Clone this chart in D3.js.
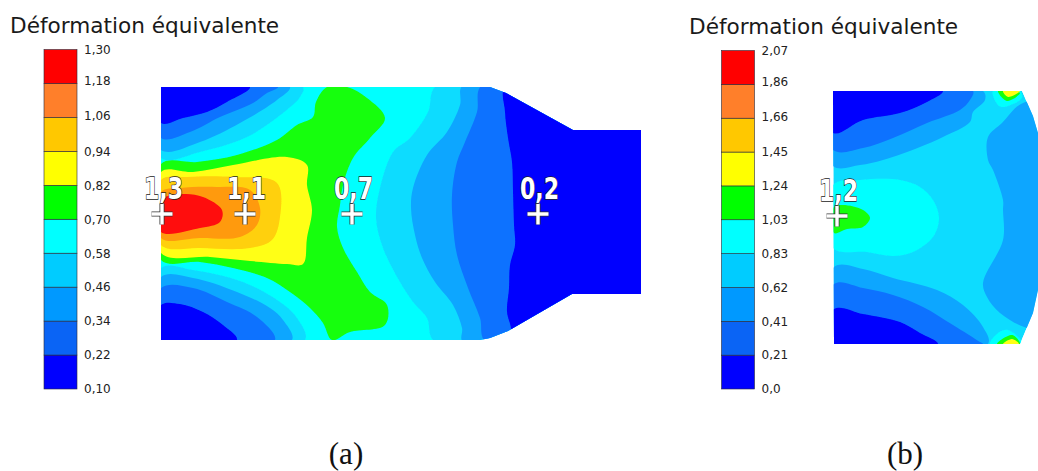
<!DOCTYPE html>
<html><head><meta charset="utf-8">
<script src="https://cdn.jsdelivr.net/npm/d3@7/dist/d3.min.js"></script>
<style>html,body{margin:0;padding:0;background:#fff;overflow:hidden}svg{display:block}</style>
</head><body><svg id="c" width="1038" height="471"></svg>
<script>
// ---------- legend data ----------
const titleText = "Déformation équivalente";
const legendColors = ["#0000ff","#0a64f5","#0099ff","#00ccff","#00ffff","#00ff00","#ffff00","#ffc800","#ff7f2a","#ff0000"];
const fieldColors  = ["#0000ff","#0f72ff","#0ba6ff","#10dcff","#00ffff","#14ff0a","#ffff14","#ffd010","#ff9a0a","#ff0a0a"];
const ticksA = ["0,10","0,22","0,34","0,46","0,58","0,70","0,82","0,94","1,06","1,18","1,30"];
const ticksB = ["0,0","0,21","0,41","0,62","0,83","1,03","1,24","1,45","1,66","1,86","2,07"];

// ---------- panel (a): contour regions in model units ----------
const outlineA = [[0,0],[329,0],[345,6],[412,43],[480,43],[480,207],[411,207],[347,244],[329,251],[319,253],[0,253]];
const rightBand3A = [[276,-2],[267,25],[249,51],[232,65],[219,101],[215,131],[222,161],[239,195],[252,215],[266,231],[274,255],[500,260],[500,-5]];
const rightBand2A = [[302,-2],[299,18],[286,45],[266,68],[252,101],[250,121],[254,148],[261,171],[274,195],[292,218],[301,241],[302,255],[500,260],[500,-5]];
const rightBand1A = [[321,-2],[316,25],[304,55],[296,75],[291,108],[292,138],[296,168],[307,201],[319,231],[325,255],[500,260],[500,-5]];
const rightBand0A = [[345,-2],[344,25],[347,51],[351,75],[352,105],[353,138],[354,158],[349,178],[348,201],[346,225],[350,243],[345,258],[500,260],[500,-5]];
const greenA = [[0,77],[36,75],[76,68],[116,53],[136,38],[152,30],[155,15],[166,0],[186,0],[206,11],[224,31],[209,51],[192,71],[182,98],[179,118],[176,140],[182,161],[196,185],[209,205],[226,218],[224,238],[189,245],[171,253],[162,236],[149,221],[129,205],[106,191],[72,181],[39,175],[0,173]];
const yellowA = [[0,85],[32,85],[72,78],[126,70],[146,78],[146,98],[151,123],[146,151],[142,177],[126,177],[89,174],[49,170],[0,166]];
const goldA = [[0,93],[26,90],[72,90],[116,96],[119,130],[111,153],[89,161],[39,161],[0,158]];
const orangeA = [[0,105],[19,101],[56,100],[89,103],[99,121],[96,138],[79,150],[39,151],[0,151]];
const redA = [[0,113],[22,107],[42,110],[61,123],[59,135],[39,141],[0,145]];
const topBand3A = [[-15,-15],[142,0],[139,10],[122,26],[86,50],[39,65],[0,71]];
const topBand2A = [[-15,-15],[129,0],[116,13],[79,36],[39,55],[0,63]];
const topBand1A = [[-15,-15],[117,0],[106,6],[92,16],[59,30],[29,45],[0,51]];
const topBand0A = [[-15,-15],[89,0],[66,15],[46,25],[22,31],[0,36]];
const botBand3A = [[0,181],[32,183],[82,195],[119,215],[136,231],[144,253],[-15,268]];
const botBand2A = [[0,190],[32,191],[76,205],[109,221],[122,233],[131,253],[-15,268]];
const botBand1A = [[0,201],[32,201],[66,215],[96,230],[114,253],[-15,268]];
const botBand0A = [[0,218],[19,217],[42,225],[62,238],[76,253],[-15,268]];
const probesA = [[1,127,"1,3"],[84,127,"1,1"],[191,127,"0,7"],[377,127,"0,2"]];

// ---------- panel (b): contour regions in model units ----------
const outlineB = [[0,0],[189,0],[200,25],[205,42],[212,84],[215,124],[212,170],[205,199],[200,222],[187,253],[1,253]];
const lobeB = [[155,46],[169,32],[190,12],[240,12],[240,242],[194,237],[167,222],[154,206],[150,192],[170,149],[170,119],[170,109],[160,79],[155,69]];
const topBand2B = [[-15,-15],[150,0],[152,9],[140,21],[137,31],[110,46],[87,56],[50,69],[27,74],[0,75]];
const topBand1B = [[-15,-15],[140,0],[137,9],[127,19],[94,32],[60,47],[30,57],[0,59]];
const topBand0B = [[-15,-15],[110,0],[94,11],[67,22],[30,29],[0,42]];
const botBand2B = [[1,176],[30,178],[60,187],[104,199],[130,214],[150,236],[155,253],[-15,268]];
const botBand1B = [[1,193],[30,197],[60,204],[90,216],[120,234],[147,251],[150,253],[-15,268]];
const botBand0B = [[1,218],[30,223],[67,231],[87,242],[105,253],[-15,268]];
const cyanB = [[0,94],[27,89],[67,89],[87,96],[100,109],[106,127],[100,146],[80,161],[60,165],[34,161],[0,157]];
const greenB = [[1,116],[10,114],[30,119],[37,127],[30,136],[14,138],[1,142]];
const hotTopCyanB = [[160,0],[165,14],[170,16],[189,7],[187,0]];
const hotTopGreenB = [[165,0],[174,10],[187,2]];
const hotTopYellowB = [[170,0],[175,6],[187,0]];
const hotBotCyanB = [[157,253],[165,242],[175,239],[189,251],[187,253]];
const hotBotGreenB = [[164,253],[179,244],[187,253]];
const hotBotYellowB = [[170,253],[179,248],[186,253]];
const probesB = [[4,125,"1,2"]];

// ---------- drawing ----------
const svg = d3.select("#c");
const defs = svg.append("defs");
defs.append("filter").attr("id","soft").attr("x","-5%").attr("y","-5%").attr("width","110%").attr("height","110%")
    .append("feGaussianBlur").attr("stdDeviation",0.55);

const panelA = {
  id:"a", xs:d3.scaleLinear().domain([0,480]).range([161,641]),
  ys:d3.scaleLinear().domain([0,253]).range([87,340]), outline:outlineA, base:4,
  layers:[[3,rightBand3A],[2,rightBand2A],[1,rightBand1A],[0,rightBand0A],
          [5,greenA],[6,yellowA],[7,goldA],[8,orangeA],[9,redA],
          [3,topBand3A],[2,topBand2A],[1,topBand1A],[0,topBand0A],
          [3,botBand3A],[2,botBand2A],[1,botBand1A],[0,botBand0A]],
  probes:probesA
};
const panelB = {
  id:"b", xs:d3.scaleLinear().domain([0,215]).range([833,1048]),
  ys:d3.scaleLinear().domain([0,253]).range([91,344]), outline:outlineB, base:3,
  layers:[[2,lobeB],[2,topBand2B],[1,topBand1B],[0,topBand0B],
          [2,botBand2B],[1,botBand1B],[0,botBand0B],[4,cyanB],[5,greenB],
          [4,hotTopCyanB],[5,hotTopGreenB],[6,hotTopYellowB],
          [4,hotBotCyanB],[5,hotBotGreenB],[6,hotBotYellowB]],
  probes:probesB
};

function drawField(p){
  const outlinePath = d3.line().x(d=>p.xs(d[0])).y(d=>p.ys(d[1])).curve(d3.curveLinearClosed);
  const bandPath = d3.line().x(d=>p.xs(d[0])).y(d=>p.ys(d[1])).curve(d3.curveCatmullRomClosed.alpha(0.5));
  defs.append("clipPath").attr("id","clip"+p.id).append("path").attr("d",outlinePath(p.outline));
  const g = svg.append("g").attr("filter","url(#soft)").append("g").attr("clip-path","url(#clip"+p.id+")");
  g.append("path").attr("d",outlinePath(p.outline)).attr("fill",fieldColors[p.base]);
  g.selectAll("path.band").data(p.layers).join("path").attr("class","band")
    .attr("d",d=>bandPath(d[1])).attr("fill",d=>fieldColors[d[0]]);
}
function drawProbes(p){
  const g = svg.append("g");
  const arm = 10.5;
  p.probes.forEach(([u,v,label])=>{
    const cx = p.xs(u), cy = p.ys(v);
    const cross = `M${cx-arm},${cy}H${cx+arm}M${cx},${cy-arm}V${cy+arm}`;
    g.append("path").attr("d",cross).attr("stroke","#333").attr("stroke-width",5).attr("fill","none");
    g.append("path").attr("d",cross).attr("stroke","#fff").attr("stroke-width",3.4).attr("fill","none");
    g.append("text").attr("x",cx+1.5).attr("y",cy-15).attr("text-anchor","middle")
      .attr("font-family","DejaVu Sans").attr("font-weight","bold").attr("font-size",30)
      .attr("textLength",39).attr("lengthAdjust","spacingAndGlyphs")
      .attr("fill","#fff").attr("stroke","#222").attr("stroke-width",1.4)
      .attr("paint-order","stroke").text(label);
  });
}
function drawLegend(x0,x1,top,bottom,labels,labelX,titleX,titleY){
  const y = d3.scaleLinear().domain([0,10]).range([bottom,top]);
  svg.append("text").attr("x",titleX).attr("y",titleY).attr("font-family","DejaVu Sans")
     .attr("font-size",21.6).attr("fill","#1a1a1a").text(titleText);
  const g = svg.append("g");
  g.selectAll("rect").data(legendColors).join("rect")
    .attr("x",x0).attr("width",x1-x0)
    .attr("y",(d,i)=>y(i+1)).attr("height",(d,i)=>y(i)-y(i+1))
    .attr("fill",d=>d).attr("stroke","#2a2a3a").attr("stroke-width",0.6);
  const axis = d3.axisRight(y).tickValues(d3.range(11)).tickSize(0).tickPadding(0)
    .tickFormat(i=>labels[i]);
  const ag = svg.append("g").attr("transform",`translate(${labelX},0)`).call(axis);
  ag.select(".domain").remove();
  ag.selectAll("text").attr("font-family","DejaVu Sans").attr("font-size",12).attr("fill","#222")
    .attr("dy","0.32em");
  // label on the second-highest tick sits a little above its band edge in the source
  ag.selectAll(".tick text").filter(i=>i===9).attr("dy","0.07em");
  ag.selectAll(".tick text").filter(i=>i===8).attr("dy","0.16em");
}

drawField(panelA); drawField(panelB);
drawProbes(panelA); drawProbes(panelB);
drawLegend(44,77,49.5,389,ticksA,84,10,33);
drawLegend(721.5,754.5,50.5,389,ticksB,761.5,689,34);

[["(a)",346],["(b)",905]].forEach(([t,x])=>{
  svg.append("text").attr("x",x).attr("y",464).attr("text-anchor","middle")
     .attr("font-family","Liberation Serif").attr("font-size",31).attr("fill","#111").text(t);
});
</script></body></html>
